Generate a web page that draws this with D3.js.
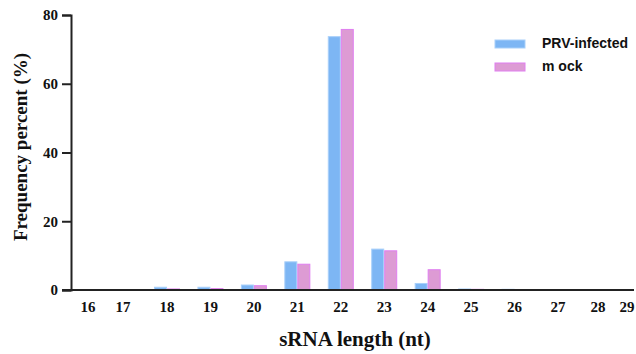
<!DOCTYPE html>
<html>
<head>
<meta charset="utf-8">
<script src="https://cdn.jsdelivr.net/npm/d3@7"></script>
<style>
  body { margin: 0; background: #fff; }
  svg { display: block; }
</style>
</head>
<body>
<div id="chart"></div>
<script>
// sRNA lengths shown on the axis, and the length distribution of each library (%)
const lengths = [16, 17, 18, 19, 20, 21, 22, 23, 24, 25, 26, 27, 28, 29];
const prvInfected = [0, 0, 0.8, 0.8, 1.45, 8.2, 73.7, 11.9, 1.9, 0.3, 0.2, 0.05, 0, 0];
const mock = [0, 0, 0.3, 0.4, 1.25, 7.5, 75.8, 11.4, 5.9, 0.2, 0, 0, 0, 0];
const yTicks = [0, 20, 40, 60, 80];
const seriesNames = ["PRV-infected", "m ock"];

const width = 636, height = 354;
const fill = ["#7db6f4", "#dd9bd4"];
const stroke = ["#a9d0fa", "#e07ef0"];
const serif = "'Liberation Serif', 'Times New Roman', serif";

const svg = d3.select("#chart").append("svg")
    .attr("width", width)
    .attr("height", height);

// the original axis labels are not evenly spaced at the ends
const x = d3.scaleLinear()
    .domain([16, 17, 18, 27, 28, 29])
    .range([88, 123, 167, 558, 598, 627]);

const y = d3.scaleLinear()
    .domain([0, 80])
    .range([290, 15]);

const barW = 13;

const data = lengths.map((len, i) => ({len: len, vals: [prvInfected[i], mock[i]]}));

const groups = svg.selectAll(".grp")
    .data(data)
    .enter().append("g")
    .attr("class", "grp");

groups.selectAll("rect")
    .data(d => d.vals.map((v, k) => ({len: d.len, v: v, k: k})).filter(b => b.v > 0))
    .enter().append("rect")
    .attr("x", b => x(b.len) - barW + b.k * barW + 0.5)
    .attr("y", b => y(b.v))
    .attr("width", barW - 1)
    .attr("height", b => y(0) - y(b.v))
    .attr("fill", b => fill[b.k])
    .attr("stroke", b => stroke[b.k])
    .attr("stroke-width", 1);

// y axis
const yAxis = svg.append("g")
    .attr("transform", "translate(71,0)")
    .call(d3.axisLeft(y).tickValues(yTicks).tickSize(9).tickPadding(4));
yAxis.select(".domain").attr("stroke", "#222").attr("stroke-width", 2);
yAxis.selectAll(".tick line").attr("stroke", "#222").attr("stroke-width", 2);
yAxis.selectAll(".tick text")
    .style("font-family", serif)
    .style("font-weight", "bold")
    .style("font-size", "15px")
    .attr("fill", "#111");

// x axis: plain line, no tick marks
svg.append("line")
    .attr("x1", 62).attr("x2", 634)
    .attr("y1", y(0)).attr("y2", y(0))
    .attr("stroke", "#222")
    .attr("stroke-width", 2);

svg.append("g").selectAll("text")
    .data(lengths)
    .enter().append("text")
    .attr("x", d => x(d))
    .attr("y", 312)
    .attr("text-anchor", "middle")
    .style("font-family", serif)
    .style("font-weight", "bold")
    .style("font-size", "15px")
    .attr("fill", "#111")
    .text(d => d);

// axis titles
svg.append("text")
    .attr("x", 355)
    .attr("y", 346)
    .attr("text-anchor", "middle")
    .style("font-family", serif)
    .style("font-weight", "bold")
    .style("font-size", "21px")
    .attr("fill", "#111")
    .text("sRNA length (nt)");

svg.append("text")
    .attr("transform", "rotate(-90)")
    .attr("x", -147)
    .attr("y", 27)
    .attr("text-anchor", "middle")
    .style("font-family", serif)
    .style("font-weight", "bold")
    .style("font-size", "19px")
    .attr("fill", "#111")
    .text("Frequency percent (%)");

// legend
const legend = svg.selectAll(".legend")
    .data(seriesNames)
    .enter().append("g")
    .attr("class", "legend")
    .attr("transform", (d, i) => "translate(495," + (40 + i * 23) + ")");

legend.append("rect")
    .attr("width", 30)
    .attr("height", 8)
    .attr("fill", (d, i) => fill[i])
    .attr("stroke", (d, i) => stroke[i]);

legend.append("text")
    .attr("x", 47)
    .attr("y", 8)
    .style("font-family", "'Liberation Sans', Arial, sans-serif")
    .style("font-weight", "bold")
    .style("font-size", "14px")
    .attr("fill", "#111")
    .text(d => d);
</script>
</body>
</html>
